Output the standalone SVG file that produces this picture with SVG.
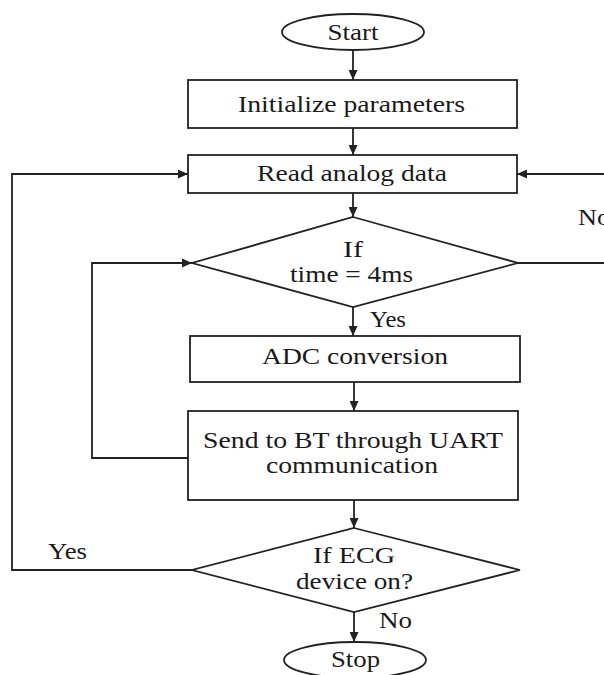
<svg xmlns="http://www.w3.org/2000/svg" width="604" height="675" viewBox="0 0 604 675">
<style>
.s{fill:#fff;stroke:#222;stroke-width:1.8}
.c{fill:none;stroke:#222;stroke-width:1.8}
text{font-family:"Liberation Serif","Times New Roman",serif;font-size:24px;fill:#1a1a1a}
.m{text-anchor:middle}
</style>
<defs>
<marker id="a" markerUnits="userSpaceOnUse" markerWidth="10" markerHeight="9" refX="10" refY="4.5" orient="auto">
<path d="M0,0 L10,4.5 L0,9 z" fill="#222"/>
</marker>
</defs>
<g id="connectors" class="c">
<line x1="353" y1="50" x2="353" y2="80" marker-end="url(#a)"/>
<line x1="353" y1="128" x2="353" y2="155" marker-end="url(#a)"/>
<line x1="353" y1="193" x2="353" y2="217" marker-end="url(#a)"/>
<line x1="353" y1="307" x2="353" y2="336" marker-end="url(#a)"/>
<line x1="354" y1="382" x2="354" y2="411" marker-end="url(#a)"/>
<line x1="354" y1="500" x2="354" y2="528" marker-end="url(#a)"/>
<line x1="354" y1="612" x2="354" y2="642" marker-end="url(#a)"/>
<polyline points="192,570 12,570 12,174 188,174" marker-end="url(#a)"/>
<polyline points="188,458 92,458 92,263 192,263" marker-end="url(#a)"/>
<line x1="518" y1="263" x2="606" y2="263"/>
<line x1="606" y1="174" x2="517" y2="174" marker-end="url(#a)"/>
</g>
<g id="start"><ellipse class="s" cx="353" cy="32" rx="71" ry="18"/><text x="353" y="40" class="m" textLength="51" lengthAdjust="spacingAndGlyphs">Start</text></g>
<g id="init"><rect class="s" x="188" y="80" width="329" height="48"/><text x="351.5" y="112" class="m" textLength="227" lengthAdjust="spacingAndGlyphs">Initialize parameters</text></g>
<g id="read"><rect class="s" x="188" y="155" width="329" height="38"/><text x="352" y="181" class="m" textLength="190" lengthAdjust="spacingAndGlyphs">Read analog data</text></g>
<g id="cond1"><polygon class="s" points="353,217 518,263 353,307 192,263"/><text x="353" y="257" class="m" textLength="20" lengthAdjust="spacingAndGlyphs">If</text><text x="351.5" y="282" class="m" textLength="123" lengthAdjust="spacingAndGlyphs">time = 4ms</text></g>
<g id="adc"><rect class="s" x="190" y="336" width="330" height="46"/><text x="355" y="364" class="m" textLength="186" lengthAdjust="spacingAndGlyphs">ADC conversion</text></g>
<g id="send"><rect class="s" x="188" y="411" width="330" height="89"/><text x="353" y="448" class="m" textLength="300" lengthAdjust="spacingAndGlyphs">Send to BT through UART</text><text x="352" y="473" class="m" textLength="172" lengthAdjust="spacingAndGlyphs">communication</text></g>
<g id="cond2"><polygon class="s" points="354,528 520,570 354,612 192,570"/><text x="354" y="563" class="m" textLength="82" lengthAdjust="spacingAndGlyphs">If ECG</text><text x="354.5" y="589" class="m" textLength="117" lengthAdjust="spacingAndGlyphs">device on?</text></g>
<g id="stop"><ellipse class="s" cx="355" cy="660" rx="71" ry="18"/><text x="355.5" y="667" class="m" textLength="49" lengthAdjust="spacingAndGlyphs">Stop</text></g>
<g id="labels">
<text x="370" y="327" textLength="36" lengthAdjust="spacingAndGlyphs">Yes</text>
<text x="578" y="225" textLength="32" lengthAdjust="spacingAndGlyphs">No</text>
<text x="48" y="559" textLength="39" lengthAdjust="spacingAndGlyphs">Yes</text>
<text x="379" y="628" textLength="33" lengthAdjust="spacingAndGlyphs">No</text>
</g>
</svg>
